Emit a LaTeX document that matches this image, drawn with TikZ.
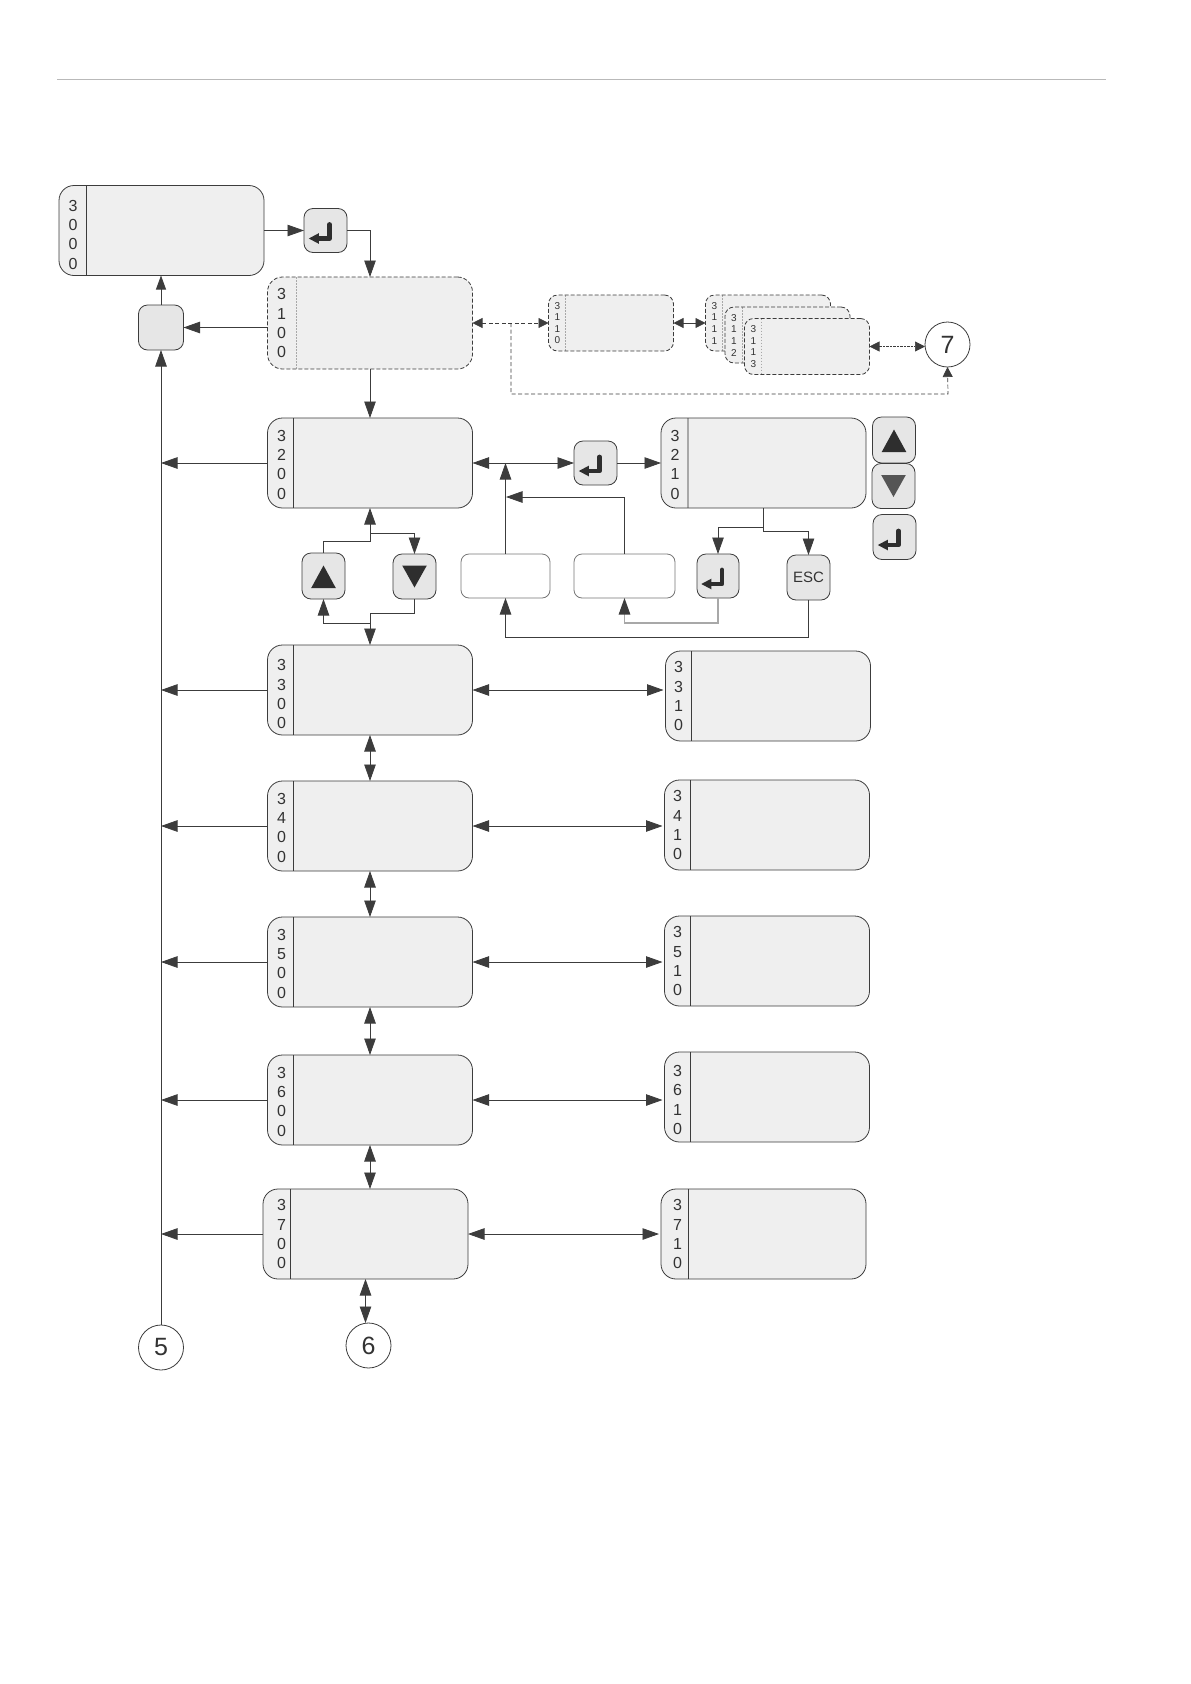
\documentclass[tikz,border=0pt]{standalone}
\usepackage{xcolor}
\usepackage{fontspec}
\setmainfont{Liberation Sans}
\usepackage{tikz}
\usetikzlibrary{shapes,arrows.meta,positioning,calc}

\definecolor{linecol}{HTML}{3C3C3C}
\definecolor{softcol}{HTML}{A8A8A8}
\definecolor{screenfill}{HTML}{EFEFEF}
\definecolor{keyfill}{HTML}{E6E6E6}
\definecolor{digitcol}{HTML}{333333}
\definecolor{icondark}{HTML}{2E2E2E}
\definecolor{iconsoft}{HTML}{555555}

\tikzset{
    divider/.style={solid, draw=linecol, line width=.8pt},
    screen/.style={rectangle, rounded corners=15pt, draw=linecol, fill=screenfill, line width=.8pt,
        minimum width=205pt, minimum height=90pt, text width=186pt, inner xsep=9.5pt, inner ysep=0pt,
        outer sep=0pt, align=left, text=digitcol, font=\fontsize{16}{19.3}\selectfont, text height=14.5pt,
        path picture={\draw [divider] ([xshift=#1]path picture bounding box.north west) -- ([xshift=#1]path picture bounding box.south west);}},
    screen/.default=26pt,
    dashscreen/.style={screen=#1, dash pattern=on 4pt off 2pt, divider/.style={draw=softcol, line width=.8pt, dash pattern=on 1.5pt off 1.5pt}},
    smallscreen/.style={dashscreen=17pt, rounded corners=9pt, minimum width=125pt, minimum height=56pt,
        text width=112.6pt, inner xsep=6.2pt, text height=7.2pt, font=\fontsize{10}{11.6}\selectfont},
    blank/.style={rectangle, rounded corners=8pt, draw=linecol!70, fill=white, line width=.8pt,
        minimum height=44pt, inner sep=0pt, outer sep=0pt},
    key/.style={rectangle, rounded corners=9pt, draw=linecol, fill=keyfill, line width=.8pt,
        minimum width=43pt, minimum height=45pt, inner sep=0pt, outer sep=0pt, text=digitcol, font=\fontsize{15}{18}\selectfont},
    enterkey/.style={key, path picture={\begin{scope}[shift={(path picture bounding box.center)}, sharp corners]
        \draw [solid, icondark, line width=4.8pt, line join=round, line cap=round] (4,-6) -- (4,8) -- (-8,8);
        \fill [icondark] (-16.7,8) -- (-6.7,2.7) -- (-6.7,13.3) -- cycle;
        \end{scope}}},
    upkey/.style={key, path picture={\begin{scope}[shift={(path picture bounding box.center)}, sharp corners]
        \fill [icondark] (0,-10.5) -- (12.3,12) -- (-12.3,12) -- cycle;
        \end{scope}}},
    downkey/.style={key, path picture={\begin{scope}[shift={(path picture bounding box.center)}, sharp corners]
        \fill [#1] (0,11) -- (12.3,-11) -- (-12.3,-11) -- cycle;
        \end{scope}}},
    downkey/.default=icondark,
    callout/.style={circle, draw=linecol, fill=white, line width=.8pt, minimum size=45pt, inner sep=0pt, outer sep=0pt,
        text=digitcol, font=\fontsize{25}{30}\selectfont},
    dashconn/.style={dash pattern=on 4pt off 2.5pt, line width=.7pt, >={Triangle[length=10pt,width=10pt,color=linecol]}},
    softconn/.style={draw=softcol, line width=1.1pt}
}

\begin{document}
\begin{tikzpicture}[x=1pt, y=-1pt, line width=.8pt, draw=linecol, >={Triangle[length=16.5pt,width=11.5pt,color=linecol]}]
    \useasboundingbox (0,0) rectangle (1191,1684);

    \coordinate (ruleL) at (57,79.5);
    \coordinate (ruleR) at (1106,79.5);
    \draw [softcol!80, line width=1.2pt] (ruleL) -- (ruleR);

    \node (m3000) at (161.5,230.5) [screen=27pt, text height=19.5pt] {3\\0\\0\\0};
    \node (kA) at (325.5,230.5) [enterkey, minimum height=44pt] {};
    \node (m3100) at (370,323) [dashscreen=29pt, minimum height=92pt, text height=11.5pt] {3\\1\\0\\0};
    \node (kN) at (161,327.5) [key, minimum width=45pt] {};
    \node (m3200) [screen, below=49pt of m3100] {3\\2\\0\\0};
    \node (m3300) [screen, below=137pt of m3200, text height=19.5pt] {3\\3\\0\\0};
    \node (m3400) [screen, below=46pt of m3300] {3\\4\\0\\0};
    \node (m3500) [screen, below=46pt of m3400] {3\\5\\0\\0};
    \node (m3600) [screen, below=48pt of m3500] {3\\6\\0\\0};
    \node (m3700) [screen=27pt, below=44pt of m3600, xshift=-4.5pt, text width=177pt, inner xsep=14pt, text height=11.5pt] {3\\7\\0\\0};

    \node (m3110) [smallscreen, right=76pt of m3100] {3\\1\\1\\0};
    \node (m3111) [smallscreen, right=32pt of m3110] {3\\1\\1\\1};
    \node (m3112) at ($(m3111)+(19.5,12)$) [smallscreen] {3\\1\\1\\2};
    \node (m3113) at ($(m3111)+(39,23.5)$) [smallscreen] {3\\1\\1\\3};
    \node (c7) at (947.5,344.5) [callout] {7};

    \node (kB) [enterkey, minimum height=44pt, right=101.5pt of m3200] {};
    \node (m3210) [screen=27pt, right=44pt of kB, divider/.style={solid, draw=softcol, line width=1.5pt}] {3\\2\\1\\0};
    \node (lUp) at (894,440) [upkey, minimum height=46pt] {};
    \node (lDn) at (893.5,486) [downkey=iconsoft] {};
    \node (lEn) at (894.5,537) [enterkey] {};

    \node (kUp) at (323.5,576) [upkey, minimum height=46pt] {};
    \node (kDn) at (414.5,576.5) [downkey] {};
    \node (bA) at (505.5,576) [blank, minimum width=89pt] {};
    \node (bB) at (624.5,576) [blank, minimum width=101pt] {};
    \node (kC) at (718,576) [enterkey, minimum width=42pt, minimum height=44pt] {};
    \node (kEsc) at (808.5,577.5) [key] {ESC};

    \node (m3310) [screen, right=193pt of m3300, yshift=-6pt, inner xsep=8.5pt, text width=188pt, text height=11.5pt] {3\\3\\1\\0};
    \node (m3410) [screen, right=192pt of m3400, yshift=1pt, inner xsep=8.5pt, text width=188pt, text height=11.5pt] {3\\4\\1\\0};
    \node (m3510) [screen, right=192pt of m3500, yshift=1pt, inner xsep=8.5pt, text width=188pt, text height=11.5pt] {3\\5\\1\\0};
    \node (m3610) [screen, right=192pt of m3600, yshift=3pt, inner xsep=8.5pt, text width=188pt, text height=17pt] {3\\6\\1\\0};
    \node (m3710) [screen=27pt, right=193pt of m3700, inner xsep=12pt, text width=181pt, text height=11.5pt] {3\\7\\1\\0};

    \node (c5) at (161,1347.5) [callout] {5};
    \node (c6) at (368.5,1345.5) [callout] {6};

    \coordinate (jUp) at (370,541);
    \coordinate (jDn) at (370,533);
    \coordinate (jLow) at (370,613);
    \coordinate (jKey) at (370,623);
    \coordinate (jB) at (506,497);

    \draw [->] (m3000.east) -- (kA.west);
    \draw [->] (kA.east) -| (m3100.north);
    \draw [->] (m3100.south) -- (m3200.north);
    \draw [->] (m3100.west |- kN.east) -- (kN.east);
    \draw [->, >={Triangle[length=14pt,width=10pt,color=linecol]}] (kN.north) -- (kN.north |- m3000.south);
    \draw [->] (c5.north) -- (kN.south);

    \draw [<->, dashconn] (m3100.east) -- (m3110.west);
    \draw [<->, >={Triangle[length=10pt,width=10pt,color=linecol]}] (m3110.east) -- (m3111.west);
    \draw [<->, dashconn, dash pattern=on 2.5pt off 1pt] (m3113.east) -- (m3113.east -| c7.west);
    \draw [->, dashconn] (m3100.east) ++(38.5,0) |- ++(437,71) -- (c7.south);

    \draw [->] (m3200.west) -- (m3200.west -| c5);
    \draw [->] (m3300.west) -- (m3300.west -| c5);
    \draw [->] (m3400.west) -- (m3400.west -| c5);
    \draw [->] (m3500.west) -- (m3500.west -| c5);
    \draw [->] (m3600.west) -- (m3600.west -| c5);
    \draw [->] (m3700.west) -- (m3700.west -| c5);

    \draw [<->] (m3200.east) -- (kB.west);
    \draw [->] (kB.east) -- (m3210.west);
    \draw [->] (bA.north) -- (bA.north |- kB.west);
    \draw [->] (bB.north) |- (jB);
    \draw [->] (m3210.south) -- ++(0,19) -| (kC.north);
    \draw [->] (m3210.south) -- ++(0,23) -| (kEsc.north);
    \draw [->] (kEsc.south) -- ++(0,37) -| (bA.south);
    \draw [->, softconn] (kC.south) -- ++(0,25) -| (bB.south);

    \draw [->] (kUp.north) |- (jUp) -- (m3200.south);
    \draw [->] (jDn) -| (kDn.north);
    \draw [->] (kDn.south) |- (jLow) -- (m3300.north);
    \draw [->] (jKey) -| (kUp.south);

    \draw [<->] (m3300.south) -- (m3400.north);
    \draw [<->] (m3400.south) -- (m3500.north);
    \draw [<->] (m3500.south) -- (m3600.north);
    \draw [<->] (m3600.south) -- (m3600.south |- m3700.north);
    \draw [<->] (m3700.south) -- (m3700.south |- c6.north);

    \draw [<->, shorten >=2pt] (m3300.east) -- (m3300.east -| m3310.west);
    \draw [<->, shorten >=2pt] (m3400.east) -- (m3400.east -| m3410.west);
    \draw [<->, shorten >=2pt] (m3500.east) -- (m3500.east -| m3510.west);
    \draw [<->, shorten >=2pt] (m3600.east) -- (m3600.east -| m3610.west);
    \draw [<->, shorten >=2pt] (m3700.east) -- (m3700.east -| m3710.west);
\end{tikzpicture}
\end{document}
